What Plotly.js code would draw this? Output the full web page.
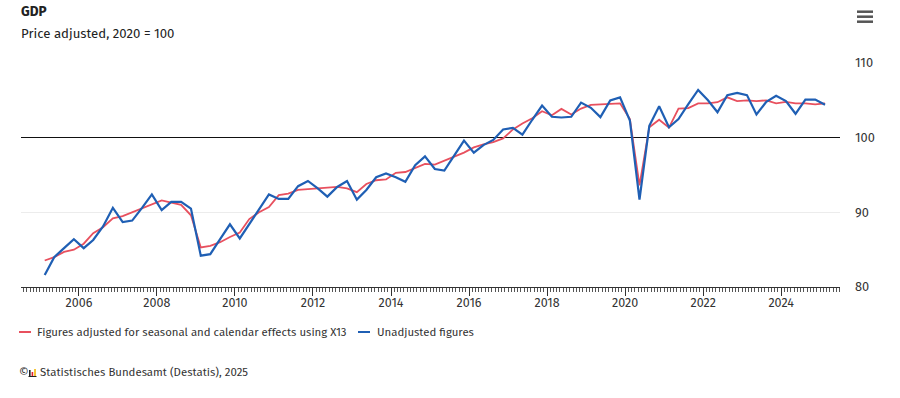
<!DOCTYPE html>
<html>
<head>
<meta charset="utf-8">
<script src="https://cdn.plot.ly/plotly-3.0.1.min.js"></script>
<style>
html,body{margin:0;padding:0;background:#fff;}
#chart{width:900px;height:398px;}
</style>
</head>
<body>
<div id="chart"></div>
<script>
// Quarters (plotted at mid-quarter)
const quarters = [
 "2005Q1","2005Q2","2005Q3","2005Q4","2006Q1","2006Q2","2006Q3","2006Q4",
 "2007Q1","2007Q2","2007Q3","2007Q4","2008Q1","2008Q2","2008Q3","2008Q4",
 "2009Q1","2009Q2","2009Q3","2009Q4","2010Q1","2010Q2","2010Q3","2010Q4",
 "2011Q1","2011Q2","2011Q3","2011Q4","2012Q1","2012Q2","2012Q3","2012Q4",
 "2013Q1","2013Q2","2013Q3","2013Q4","2014Q1","2014Q2","2014Q3","2014Q4",
 "2015Q1","2015Q2","2015Q3","2015Q4","2016Q1","2016Q2","2016Q3","2016Q4",
 "2017Q1","2017Q2","2017Q3","2017Q4","2018Q1","2018Q2","2018Q3","2018Q4",
 "2019Q1","2019Q2","2019Q3","2019Q4","2020Q1","2020Q2","2020Q3","2020Q4",
 "2021Q1","2021Q2","2021Q3","2021Q4","2022Q1","2022Q2","2022Q3","2022Q4",
 "2023Q1","2023Q2","2023Q3","2023Q4","2024Q1","2024Q2","2024Q3","2024Q4",
 "2025Q1"
];

// Figures adjusted for seasonal and calendar effects using X13
const adjusted = [
 83.55, 84.0, 84.7, 85.0, 85.8, 87.2, 88.0, 89.2,
 89.5, 90.0, 90.5, 91.1, 91.6, 91.3, 91.0, 89.6,
 85.3, 85.5, 86.0, 86.7, 87.3, 89.1, 90.0, 90.7,
 92.3, 92.5, 93.0, 93.1, 93.2, 93.3, 93.4, 93.2,
 92.7, 93.8, 94.3, 94.4, 95.3, 95.4, 96.0, 96.5,
 96.4, 96.9, 97.4, 98.0, 98.7, 99.1, 99.4, 99.9,
 101.1, 101.9, 102.6, 103.55, 103.0, 103.85, 103.1, 103.9,
 104.4, 104.45, 104.6, 104.6, 102.5, 93.6, 101.4, 102.4,
 101.35, 103.9, 103.95, 104.6, 104.6, 104.75, 105.4, 104.9,
 105.0, 104.9, 105.0, 104.6, 104.8, 104.6, 104.6, 104.45,
 104.6
];

// Unadjusted figures
const unadjusted = [
 81.6, 84.0, 85.2, 86.4, 85.2, 86.3, 88.1, 90.6,
 88.7, 88.9, 90.6, 92.4, 90.3, 91.4, 91.4, 90.5,
 84.2, 84.4, 86.4, 88.4, 86.5, 88.4, 90.4, 92.4,
 91.8, 91.8, 93.5, 94.2, 93.2, 92.1, 93.4, 94.2,
 91.7, 93.0, 94.7, 95.2, 94.7, 94.1, 96.3, 97.5,
 95.8, 95.6, 97.6, 99.6, 98.0, 99.0, 99.7, 101.1,
 101.3, 100.4, 102.4, 104.3, 102.8, 102.7, 102.8, 104.7,
 104.0, 102.75, 105.0, 105.4, 102.3, 91.7, 101.6, 104.2,
 101.4, 102.5, 104.5, 106.4, 105.0, 103.4, 105.7, 106.0,
 105.7, 103.1, 104.8, 105.6, 104.9, 103.2, 105.1, 105.1,
 104.4
];

const seriesNames = ["Figures adjusted for seasonal and calendar effects using X13", "Unadjusted figures"];
const yTicks = [80, 90, 100, 110];
const yRange = [80, 110];
const baseValue = 100;
const titleText = "GDP";
const subtitleText = "Price adjusted, 2020 = 100";
const sourceText = "Statistisches Bundesamt (Destatis), 2025";

const RED = "#e8505e";
const BLUE = "#1f5fb4";
const FONT = "Fira Sans, Roboto, sans-serif";
const TXT = "#333333";

// quarter label -> mid-quarter date
const midMonth = {Q1:"02-15", Q2:"05-15", Q3:"08-15", Q4:"11-15"};
const xDates = quarters.map(q => q.slice(0,4) + "-" + midMonth[q.slice(4)]);

// pixel -> paper helpers (plot area: x 21..840, y 63..287)
const L = 21, R = 840, T = 63, B = 287;
const px = x => (x - L) / (R - L);
const py = y => (B - y) / (B - T);

const traces = [
  {x: xDates, y: adjusted, type: "scatter", mode: "lines", name: seriesNames[0],
   line: {color: RED, width: 1.8}, hoverinfo: "x+y"},
  {x: xDates, y: unadjusted, type: "scatter", mode: "lines", name: seriesNames[1],
   line: {color: BLUE, width: 2.2}, hoverinfo: "x+y"},
  // helper axis carrying the black 100 baseline as a crisp zero line
  {x: [], y: [], type: "scatter", mode: "lines", yaxis: "y2", showlegend: false, hoverinfo: "skip"}
];

const shapes = [
  // legend samples
  {type: "line", xref: "paper", yref: "paper", x0: px(19), x1: px(31), y0: py(332), y1: py(332),
   line: {color: RED, width: 2}},
  {type: "line", xref: "paper", yref: "paper", x0: px(358), x1: px(370), y0: py(332), y1: py(332),
   line: {color: BLUE, width: 2}},
  // hamburger menu
  {type: "line", xref: "paper", yref: "paper", x0: px(857), x1: px(873), y0: py(11.7), y1: py(11.7), line: {color: "#555", width: 2.5}},
  {type: "line", xref: "paper", yref: "paper", x0: px(857), x1: px(873), y0: py(16.7), y1: py(16.7), line: {color: "#555", width: 2.5}},
  {type: "line", xref: "paper", yref: "paper", x0: px(857), x1: px(873), y0: py(21.7), y1: py(21.7), line: {color: "#555", width: 2.5}},
  // little logo bars
  {type: "rect", xref: "paper", yref: "paper", x0: px(29), x1: px(30.6), y0: py(376), y1: py(370), fillcolor: "#222", line: {width: 0}},
  {type: "rect", xref: "paper", yref: "paper", x0: px(31.6), x1: px(33.2), y0: py(376), y1: py(372), fillcolor: "#e3202c", line: {width: 0}},
  {type: "rect", xref: "paper", yref: "paper", x0: px(34.2), x1: px(35.8), y0: py(376), y1: py(369), fillcolor: "#f2b705", line: {width: 0}},
  {type: "line", xref: "paper", yref: "paper", x0: px(28.5), x1: px(36.5), y0: py(376.5), y1: py(376.5), line: {color: "#222", width: 1}}
];

const annotations = [
  {text: "<b>" + titleText + "</b>", xref: "paper", yref: "paper", x: px(19), y: py(11.5), xanchor: "left", yanchor: "middle",
   showarrow: false, font: {family: FONT, size: 13.5, color: "#222"}},
  {text: subtitleText, xref: "paper", yref: "paper", x: px(19), y: py(33), xanchor: "left", yanchor: "middle",
   showarrow: false, font: {family: FONT, size: 13.2, color: "#222"}},
  {text: seriesNames[0], xref: "paper", yref: "paper", x: px(35), y: py(332), xanchor: "left", yanchor: "middle",
   showarrow: false, font: {family: FONT, size: 11.4, color: TXT}},
  {text: seriesNames[1], xref: "paper", yref: "paper", x: px(375), y: py(332), xanchor: "left", yanchor: "middle",
   showarrow: false, font: {family: FONT, size: 11.4, color: TXT}},
  {text: "©", xref: "paper", yref: "paper", x: px(17), y: py(372), xanchor: "left", yanchor: "middle",
   showarrow: false, font: {family: FONT, size: 12, color: TXT}},
  {text: sourceText, xref: "paper", yref: "paper", x: px(38), y: py(372), xanchor: "left", yanchor: "middle",
   showarrow: false, font: {family: FONT, size: 11.4, color: TXT}}
];

const layout = {
  width: 900, height: 398,
  margin: {l: L, r: 900 - R, t: T, b: 398 - B, pad: 0},
  paper_bgcolor: "#ffffff", plot_bgcolor: "#ffffff",
  showlegend: false,
  font: {family: FONT, size: 12.5, color: TXT},
  xaxis: {
    type: "date",
    range: ["2004-07-08", "2025-07-05"],
    tick0: "2006-01-01", dtick: "M24", tickformat: "%Y",
    ticks: "outside", ticklen: 8, tickcolor: "#333", tickwidth: 1,
    ticklabelstandoff: -4,
    minor: {dtick: "M1", ticks: "outside", ticklen: 4, tickcolor: "#555", tickwidth: 1, showgrid: false},
    showline: true, linecolor: "#333", linewidth: 1,
    showgrid: false, zeroline: false,
    tickfont: {family: FONT, size: 12.5, color: TXT},
    fixedrange: true
  },
  yaxis: {
    side: "right",
    range: yRange,
    tickvals: yTicks,
    ticks: "", ticklabelstandoff: 14,
    showgrid: true, gridcolor: "#ececec", gridwidth: 1,
    zeroline: false, showline: false,
    tickfont: {family: FONT, size: 12.8, color: TXT},
    fixedrange: true
  },
  yaxis2: {
    overlaying: "y", side: "right",
    range: [yRange[0] - baseValue, yRange[1] - baseValue],
    showticklabels: false, ticks: "", showgrid: false, showline: false,
    zeroline: true, zerolinecolor: "#111", zerolinewidth: 1,
    fixedrange: true
  },
  shapes: shapes,
  annotations: annotations
};

Plotly.newPlot("chart", traces, layout, {displayModeBar: false, staticPlot: true});
</script>
</body>
</html>
